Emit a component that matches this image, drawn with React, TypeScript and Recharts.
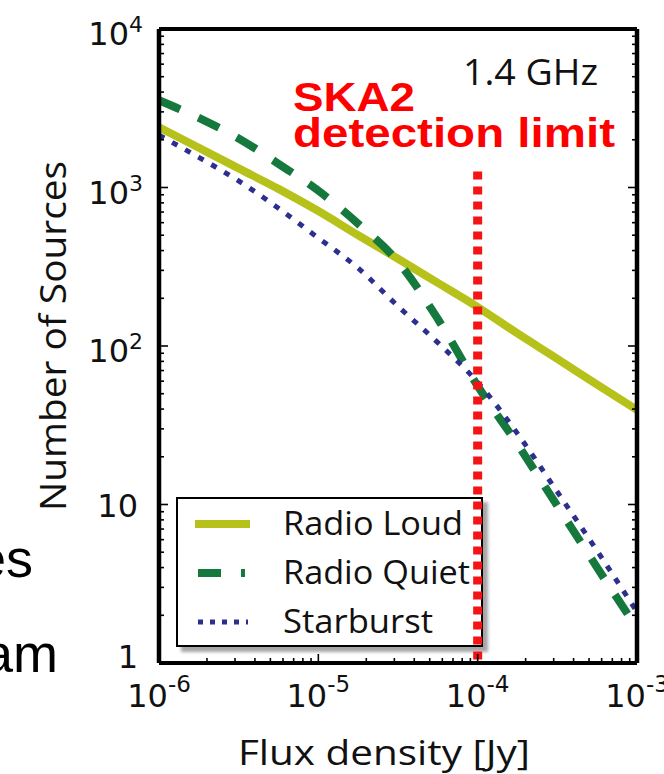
import React from 'react';
import { LineChart, Line, XAxis, YAxis, ReferenceLine, Legend } from 'recharts';

// flux density grid in Jy (quarter-decade steps)
const fluxJy = [1e-6, 1.778e-6, 3.162e-6, 5.623e-6, 1e-5, 1.778e-5, 3.162e-5, 5.623e-5, 1e-4, 1.778e-4, 3.162e-4, 5.623e-4, 1e-3];
const radioLoud = [2400, 1780, 1320, 980, 710, 500, 355, 250, 176, 120, 83, 57, 39.5];
const radioQuiet = [3550, 2750, 2040, 1410, 955, 590, 340, 148, 56, 24, 9.8, 4.0, 1.66];
const starburst = [2140, 1550, 1100, 740, 480, 310, 178, 105, 59, 28, 12, 5.1, 2.1];

const xMajor = [1e-6, 1e-5, 1e-4, 1e-3];
const xMajorLabels = ['-6', '-5', '-4', '-3'];
const yMajor = [1, 10, 100, 1000, 10000];
const yMajorLabels = [
  { base: '1', sup: '' },
  { base: '10', sup: '' },
  { base: '10', sup: '2' },
  { base: '10', sup: '3' },
  { base: '10', sup: '4' },
];
const minorSteps = [2, 3, 4, 5, 6, 7, 8, 9];

const skaLimitJy = 1e-4;
const skaLineTop = 1260;

const series = [
  { key: 'loud', name: 'Radio Loud', color: '#b6c21a', width: 8, dash: undefined, legendDash: undefined, legendX: [19, 74], textLen: 180 },
  { key: 'quiet', name: 'Radio Quiet', color: '#15783d', width: 8, dash: '23 20', legendDash: '23 20', legendX: [22, 69], textLen: 187 },
  { key: 'starburst', name: 'Starburst', color: '#2c2f8e', width: 5, dash: '6 9', legendDash: '5 7', legendX: [22, 72], textLen: 150 },
];

const data = fluxJy.map((flux, i) => ({
  flux,
  loud: radioLoud[i],
  quiet: radioQuiet[i],
  starburst: starburst[i],
}));

const xTicks = [...xMajor, ...xMajor.slice(0, 3).flatMap((d) => minorSteps.map((m) => m * d))];
const yTicks = [...yMajor, ...yMajor.slice(0, 4).flatMap((d) => minorSteps.map((m) => m * d))];

const isMajor = (v: number) => Math.abs(Math.log10(v) - Math.round(Math.log10(v))) < 1e-6;

const TICK_FONT = 'DejaVu Sans, sans-serif';
const LABEL_FONT = '"Open Sans", sans-serif';

function BottomTick({ x, y, payload }: any) {
  const v = payload.value;
  const major = isMajor(v);
  const idx = xMajor.findIndex((m) => Math.abs(m - v) / m < 1e-6);
  return (
    <g>
      <line x1={x} x2={x} y1={y} y2={y - (major ? 9 : 5)} stroke="#000" strokeWidth={1.6} />
      {idx >= 0 && (
        <text x={x} y={y + 44} textAnchor="middle" fontFamily={TICK_FONT} fontSize={32} fill="#111">
          10
          <tspan dy={-15} fontSize={23}>
            {xMajorLabels[idx]}
          </tspan>
        </text>
      )}
    </g>
  );
}

function TopTick({ x, y, payload }: any) {
  const major = isMajor(payload.value);
  return <line x1={x} x2={x} y1={y} y2={y + (major ? 9 : 5)} stroke="#000" strokeWidth={1.6} />;
}

function LeftTick({ x, y, payload }: any) {
  const v = payload.value;
  const major = isMajor(v);
  const idx = yMajor.findIndex((m) => Math.abs(m - v) / m < 1e-6);
  const lab = idx >= 0 ? yMajorLabels[idx] : null;
  const dy = lab ? (lab.sup ? 16 : lab.base === '1' ? 5 : 12) : 0;
  return (
    <g>
      <line x1={x} x2={x + (major ? 9 : 5)} y1={y} y2={y} stroke="#000" strokeWidth={1.6} />
      {lab && (
        <text x={lab.sup ? 143 : 138} y={y + dy} textAnchor="end" fontFamily={TICK_FONT} fontSize={32} fill="#111">
          {lab.base}
          {lab.sup && (
            <tspan dy={-13} fontSize={22}>
              {lab.sup}
            </tspan>
          )}
        </text>
      )}
    </g>
  );
}

function RightTick({ x, y, payload }: any) {
  const major = isMajor(payload.value);
  return <line x1={x} x2={x - (major ? 9 : 5)} y1={y} y2={y} stroke="#000" strokeWidth={1.6} />;
}

function LegendBox() {
  const rows = [27, 76, 125];
  return (
    <div
      style={{
        position: 'relative',
        width: 307,
        height: 150,
        boxSizing: 'border-box',
        border: '2px solid #000',
        background: '#fff',
        boxShadow: '5px 5px 3px rgba(0,0,0,0.35)',
      }}
    >
      <svg width={307} height={150} style={{ position: 'absolute', left: -2, top: -2 }}>
        {series.map((s, i) => (
          <g key={s.key}>
            <line
              x1={s.legendX[0]}
              x2={s.legendX[1]}
              y1={rows[i]}
              y2={rows[i]}
              stroke={s.color}
              strokeWidth={s.width}
              strokeDasharray={s.legendDash}
            />
            <text
              x={107}
              y={rows[i] + 11}
              fontFamily={LABEL_FONT}
              fontSize={33}
              fill="#111"
              textLength={s.textLen}
              lengthAdjust="spacingAndGlyphs"
            >
              {s.name}
            </text>
          </g>
        ))}
      </svg>
    </div>
  );
}

export default function App() {
  return (
    <div style={{ position: 'absolute', left: 0, top: 0, width: 664, height: 774 }}>
      <LineChart width={664} height={774} data={data} margin={{ top: 19, right: 17, bottom: 51, left: 99 }}>
        <XAxis
          xAxisId="b"
          dataKey="flux"
          type="number"
          scale="log"
          domain={[1e-6, 1e-3]}
          allowDataOverflow
          ticks={xTicks}
          interval={0}
          tickSize={0}
          tickMargin={0}
          tickLine={false}
          tick={(p: any) => <BottomTick {...p} />}
          axisLine={{ stroke: '#000', strokeWidth: 4 }}
          height={60}
          label={{
            content: () => (
              <text x={384} y={765} textAnchor="middle" fontFamily={LABEL_FONT} fontSize={35} fill="#111" textLength={292} lengthAdjust="spacingAndGlyphs">
                Flux density [Jy]
              </text>
            ),
          }}
        />
        <XAxis
          xAxisId="t"
          orientation="top"
          type="number"
          scale="log"
          domain={[1e-6, 1e-3]}
          allowDataOverflow
          ticks={xTicks}
          interval={0}
          tickSize={0}
          tickMargin={0}
          tickLine={false}
          tick={(p: any) => <TopTick {...p} />}
          axisLine={{ stroke: '#000', strokeWidth: 4 }}
          height={10}
        />
        <YAxis
          yAxisId="l"
          type="number"
          scale="log"
          domain={[1, 10000]}
          allowDataOverflow
          ticks={yTicks}
          interval={0}
          tickSize={0}
          tickMargin={0}
          tickLine={false}
          tick={(p: any) => <LeftTick {...p} />}
          axisLine={{ stroke: '#000', strokeWidth: 4.5 }}
          width={60}
          label={{
            content: () => (
              <text
                transform="translate(66,336) rotate(-90)"
                textAnchor="middle"
                fontFamily={LABEL_FONT}
                fontSize={37}
                fill="#111"
                textLength={350}
                lengthAdjust="spacingAndGlyphs"
              >
                Number of Sources
              </text>
            ),
          }}
        />
        <YAxis
          yAxisId="r"
          orientation="right"
          type="number"
          scale="log"
          domain={[1, 10000]}
          allowDataOverflow
          ticks={yTicks}
          interval={0}
          tickSize={0}
          tickMargin={0}
          tickLine={false}
          tick={(p: any) => <RightTick {...p} />}
          axisLine={{ stroke: '#000', strokeWidth: 4.5 }}
          width={10}
        />
        <Legend
          layout="vertical"
          align="center"
          verticalAlign="middle"
          content={() => <LegendBox />}
          wrapperStyle={{ left: 176, top: 497, width: 307, height: 150, zIndex: -1 }}
        />
        {series.map((s) => (
          <Line
            key={s.key}
            xAxisId="b"
            yAxisId="l"
            dataKey={s.key}
            name={s.name}
            type="monotone"
            stroke={s.color}
            strokeWidth={s.width}
            strokeDasharray={s.dash}
            dot={false}
            activeDot={false}
            isAnimationActive={false}
          />
        ))}
        <ReferenceLine
          xAxisId="b"
          yAxisId="l"
          segment={[
            { x: skaLimitJy, y: skaLineTop },
            { x: skaLimitJy, y: 1 },
          ]}
          stroke="#f41414"
          strokeWidth={9}
          strokeDasharray="8 7"
        />
        <text x={463} y={85} fontFamily={LABEL_FONT} fontSize={37} fill="#111" textLength={135} lengthAdjust="spacingAndGlyphs">
          1.4 GHz
        </text>
        <text x={293} y={111} fontFamily="Liberation Sans, Arial, sans-serif" fontWeight="bold" fontSize={41} fill="#ff0000" textLength={122} lengthAdjust="spacingAndGlyphs">
          SKA2
        </text>
        <text x={293} y={147} fontFamily="Liberation Sans, Arial, sans-serif" fontWeight="bold" fontSize={40} fill="#ff0000" textLength={322} lengthAdjust="spacingAndGlyphs">
          detection limit
        </text>
        <text x={33} y={577} textAnchor="end" fontFamily="Liberation Sans, Arial, sans-serif" fontSize={54} fill="#000">
          es
        </text>
        <text x={58} y={672} textAnchor="end" fontFamily="Liberation Sans, Arial, sans-serif" fontSize={54} fill="#000">
          am
        </text>
      </LineChart>
    </div>
  );
}
